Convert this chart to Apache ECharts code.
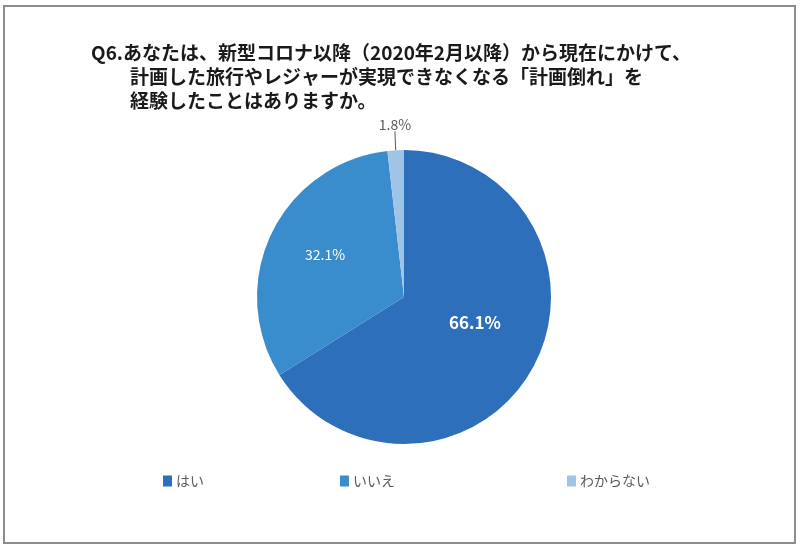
<!DOCTYPE html>
<html><head><meta charset="utf-8">
<script src="https://cdn.jsdelivr.net/npm/echarts@6/dist/echarts.min.js"></script>
<style>html,body{margin:0;padding:0;background:#fff}#c{width:800px;height:549px}</style>
</head><body><div id="c"></div>
<script>
const titleLines = [
  'Q6.あなたは、新型コロナ以降（2020年2月以降）から現在にかけて、',
  '計画した旅行やレジャーが実現できなくなる「計画倒れ」を',
  '経験したことはありますか。'
];
const categories = ['はい', 'いいえ', 'わからない'];
const values = [66.1, 32.1, 1.8];
const colors = ['#2D6FBB', '#3A8DCC', '#A0C4E6'];
const FONT = '"Noto Sans CJK JP", "Noto Sans", sans-serif';

const chart = echarts.init(document.getElementById('c'), null, {renderer: 'canvas'});
const titleLeft = [86, 125, 125];
const titleTop = [38, 62, 86];
const legendLeft = [158, 335, 562];

const data = categories.map((n, i) => {
  const d = {name: n, value: values[i], itemStyle: {color: colors[i]}};
  if (i === 0) d.label = {position: 'inside', color: '#fff', fontSize: 17, fontWeight: 'bold', offset: [4, -12]};
  if (i === 1) d.label = {position: 'inside', color: '#fff', fontSize: 14, offset: [-10, -9]};
  if (i === 2) d.label = {position: 'outside', color: '#595959', fontSize: 14};
  return d;
});

chart.setOption({
  backgroundColor: '#fff',
  animation: false,
  title: titleLines.map((t, i) => ({
    text: t, left: titleLeft[i], top: titleTop[i],
    textStyle: {fontFamily: FONT, fontSize: 19, fontWeight: 'bold', color: '#1a1a1a'}
  })),
  legend: categories.map((n, i) => ({
    data: [n], left: legendLeft[i], top: 469, icon: 'rect', itemWidth: 9, itemHeight: 11, itemGap: 4,
    selectedMode: false,
    textStyle: {fontFamily: FONT, fontSize: 14, color: '#595959', padding: [0, 0, 0, -1]}
  })),
  graphic: [{
    type: 'rect', shape: {x: 4, y: 6, width: 791, height: 537},
    style: {fill: 'none', stroke: '#8c8c8c', lineWidth: 2}, silent: true
  }],
  series: [{
    type: 'pie',
    center: [404, 297],
    radius: 147,
    startAngle: 90,
    clockwise: true,
    data: data,
    label: {
      show: true, fontFamily: FONT,
      formatter: p => p.value.toFixed(1) + '%'
    },
    labelLine: {show: true, length: 14, length2: 0, lineStyle: {color: '#595959', width: 1}},
    labelLayout: function (p) {
      if (p.dataIndex === 2 && p.labelLinePoints) {
        const e = p.labelLinePoints[p.labelLinePoints.length - 1];
        return {x: e[0], y: e[1] - 5, align: 'center', verticalAlign: 'bottom'};
      }
      return {};
    },
    emphasis: {disabled: true}
  }]
});
</script></body></html>
